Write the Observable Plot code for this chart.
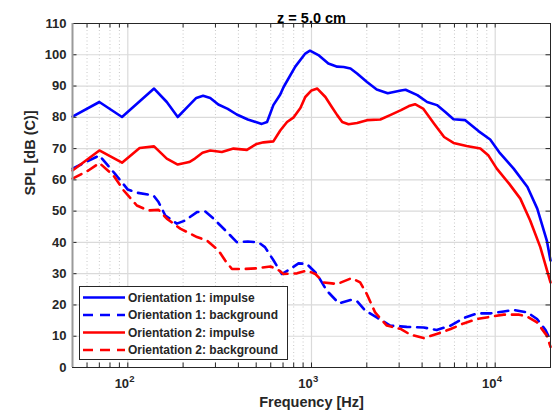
<!DOCTYPE html>
<html><head><meta charset="utf-8">
<script src="https://cdn.jsdelivr.net/npm/d3@7"></script>
<script src="https://cdn.jsdelivr.net/npm/@observablehq/plot@0.6"></script>
<style>
body{margin:0;background:#fff;}
#chart{position:relative;width:560px;height:416px;}
</style>
</head><body><div id="chart"></div>
<script>
// ---------- data ----------
const seriesNames = ["Orientation 1: impulse","Orientation 1: background","Orientation 2: impulse","Orientation 2: background"];
const seriesColors = ["#0000ff","#0000ff","#ff0000","#ff0000"];
const seriesDash = [null,"10,7",null,"10,7"];

const o1ImpF = [50,70,93,139,163,187,207,236,257,281,311,350,392,450,536,573,620,676,705,816,925,981,1090,1235,1380,1495,1630,1770,2005,2265,2600,3070,3250,3770,4260,4820,5350,5930,6870,8110,9390,10500,12600,14980,16940,19100,20000];
const o1ImpV = [80.2,84.9,80.1,89.2,84.9,80.1,82.8,86.2,86.9,86.2,84.1,82.7,80.9,79.3,77.9,78.5,83.9,87.3,89.7,96.2,100.4,101.3,99.9,97.2,96.2,96.1,95.6,94.0,91.3,88.9,87.7,88.6,88.8,87.1,84.9,83.9,81.7,79.4,79.1,75.6,72.9,68.9,63.6,57.7,50.8,40.6,34.2];

const o1BgF = [50,70,85,100,112,138,147,160,185,205,238,264,293,347,392,450,515,558,622,690,766,850,943,1070,1210,1410,1630,1770,1960,2265,2680,3300,4080,4800,5720,6730,7970,9390,11130,12600,15000,16900,18800,20000];
const o1BgV = [63.6,67.8,62.0,56.9,55.9,55.0,52.9,48.6,46.0,47.0,49.7,49.9,47.6,43.3,40.1,40.3,40.0,38.5,34.2,29.9,31.5,33.3,33.1,29.9,24.6,20.5,21.6,21.2,18.2,16.0,13.4,13.0,12.8,12.0,13.4,15.8,17.3,17.3,17.9,18.4,17.6,15.5,12.0,8.6];

const o2ImpF = [50,70,93,116,139,163,187,216,232,255,281,325,376,445,503,548,620,676,736,800,870,925,1000,1075,1190,1290,1380,1470,1590,1770,2005,2370,2680,3070,3390,3660,4050,4640,5270,5930,6990,8300,9160,10200,11900,13700,15500,17600,20000];
const o2ImpV = [63.0,69.4,65.5,70.2,70.7,66.8,64.9,65.7,66.8,68.7,69.4,68.9,70.0,69.6,71.5,72.0,72.3,75.8,78.5,80.0,83.0,86.5,88.6,89.2,86.5,83.3,80.7,78.5,77.8,78.2,79.1,79.3,80.7,82.3,83.6,84.2,82.8,78.0,73.7,71.8,70.8,70.0,67.9,63.6,58.8,54.0,47.0,38.5,27.2];

const o2BgF = [50,61,70,83.5,95,112,129,147,163,193,238,270,312,339,369,426,503,597,649,704,834,943,1050,1165,1290,1380,1660,1840,2000,2220,2570,3070,3450,4080,4800,5720,6730,7970,9390,11130,13500,15000,16900,19100,20000];
const o2BgV = [60.4,63.0,65.4,61.4,56.6,51.8,50.2,50.4,47.6,44.4,41.7,40.6,37.4,34.2,31.5,31.5,31.7,32.3,31.5,29.9,30.1,31.0,29.9,27.2,26.9,26.7,28.6,27.2,23.5,17.6,13.4,12.3,10.5,9.4,10.7,12.3,14.1,15.5,16.2,16.9,16.9,16.2,14.4,10.2,6.6];

const xMajorTicks = [100,1000,10000];
const xMinorTicks = [60,70,80,90,200,300,400,500,600,700,800,900,2000,3000,4000,5000,6000,7000,8000,9000];
const xTickBase = ["10","10","10"];
const xTickExp = ["2","3","4"];
const yTicks = [0,10,20,30,40,50,60,70,80,90,100,110];

const titleText = "z = 5.0 cm";
const xLabel = "Frequency [Hz]";
const yLabel = "SPL [dB (C)]";

// ---------- build ----------
const seriesF = [o1ImpF,o1BgF,o2ImpF,o2BgF];
const seriesV = [o1ImpV,o1BgV,o2ImpV,o2BgV];
const rows = seriesNames.map((n,k)=>seriesF[k].map((f,i)=>({f, v:seriesV[k][i], name:n})));

const W=560,H=416,mL=72,mR=10,mT=23,mB=49;
const innerW=W-mL-mR, innerH=H-mT-mB;
const font = "'Liberation Sans', Arial, Helvetica, sans-serif";
const ink = "#262626";

const plot = Plot.plot({
  width:W, height:H,
  marginLeft:mL, marginRight:mR, marginTop:mT, marginBottom:mB,
  style:{fontFamily:font, background:"#fff"},
  x:{type:"log", domain:[50,20000], axis:null},
  y:{domain:[0,110], axis:null},
  marks:[
    Plot.ruleX(xMinorTicks,{x:d=>d, stroke:"#c8c8c8", strokeDasharray:"1,2.5", strokeWidth:1}),
    Plot.ruleX(xMajorTicks,{x:d=>d, stroke:"#dadada", strokeWidth:1.2}),
    Plot.ruleY(yTicks,{y:d=>d, stroke:"#dadada", strokeWidth:1.2}),
    ...rows.map((r,k)=>Plot.line(r,{x:"f", y:"v", stroke:seriesColors[k], strokeWidth:2.6, strokeDasharray:seriesDash[k], strokeLinejoin:"round"})),
    // inward ticks
    Plot.tickX([...xMajorTicks,...xMinorTicks],{x:d=>d, stroke:ink, insetTop:innerH-4.5}),
    Plot.tickX([...xMajorTicks,...xMinorTicks],{x:d=>d, stroke:ink, insetBottom:innerH-4.5}),
    Plot.tickY(yTicks,{y:d=>d, stroke:ink, insetRight:innerW-4.5}),
    Plot.tickY(yTicks,{y:d=>d, stroke:ink, insetLeft:innerW-4.5}),
    Plot.frame({stroke:ink, strokeWidth:1}),
    Plot.ruleX([50],{x:d=>d, stroke:"#9a9a9a", strokeWidth:2}),
    // y tick labels
    Plot.text(yTicks,{y:d=>d, frameAnchor:"left", dx:-6, text:d=>String(d), textAnchor:"end", fontSize:13, fontWeight:"bold", fill:ink}),
    // x tick labels with superscript
    Plot.text(xMajorTicks,{x:d=>d, frameAnchor:"bottom", dy:20, dx:1.3, text:(d,i)=>xTickBase[i], textAnchor:"end", fontSize:13, fontWeight:"bold", fill:ink}),
    Plot.text(xMajorTicks,{x:d=>d, frameAnchor:"bottom", dy:14.5, dx:1.5, text:(d,i)=>xTickExp[i], textAnchor:"start", fontSize:9.5, fontWeight:"bold", fill:ink}),
    // labels & title
    Plot.text([xLabel],{frameAnchor:"bottom", dy:39, text:d=>d, fontSize:14.5, fontWeight:"bold", fill:ink}),
    Plot.text([yLabel],{frameAnchor:"left", dx:-42, rotate:-90, text:d=>d, fontSize:14.5, fontWeight:"bold", fill:ink}),
    Plot.text([titleText],{frameAnchor:"top", dy:-11, text:d=>d, fontSize:14.5, fontWeight:"bold", fill:"#000"})
  ]
});
document.getElementById("chart").appendChild(plot);

// ---------- legend (overlay inside the svg) ----------
const svg = d3.select(plot);
const lg = svg.append("g").attr("transform","translate(79.5,286.5)");
lg.append("rect").attr("width",208).attr("height",73).attr("fill","#fff").attr("stroke",ink).attr("stroke-width",1);
const rowY = [11, 28.5, 46, 63.5];
seriesNames.forEach((n,i)=>{
  const g = lg.append("g").attr("transform",`translate(0,${rowY[i]})`);
  const ln = g.append("line").attr("x1",3.5).attr("x2",45.5).attr("y1",0).attr("y2",0)
    .style("stroke",seriesColors[i]).style("stroke-width","2.6px");
  if (seriesDash[i]) ln.style("stroke-dasharray",seriesDash[i]);
  g.append("text").attr("x",48.5).attr("y",0).attr("dy","0.36em")
    .attr("text-anchor","start")
    .style("font-size","12px").style("font-weight","bold").style("fill",ink)
    .style("font-family",font).text(n);
});
</script>
</body></html>
